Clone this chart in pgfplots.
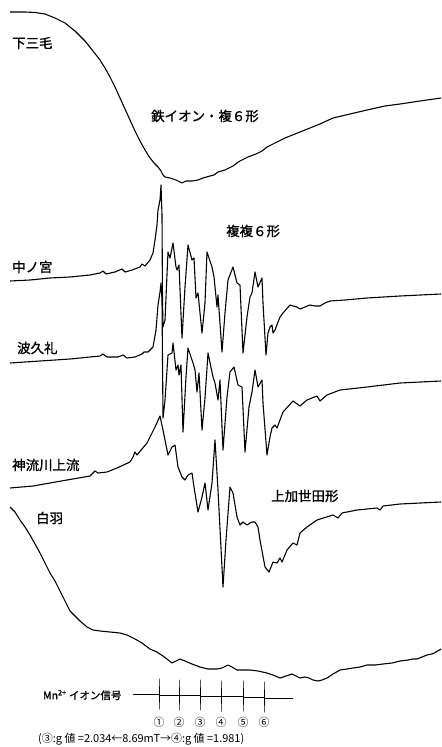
\documentclass[border=0pt]{standalone}
\usepackage{pgfplots}
\pgfplotsset{compat=1.18}
\usepackage{fontspec}
\newfontfamily\jp{Noto Sans CJK JP}
\newfontfamily\jpm[FakeBold=1.2]{Noto Sans CJK JP}
\setmainfont{Noto Sans CJK JP}
\pgfplotsset{tr/.style={black, no markers, line width=1.1bp, line join=round}}
\begin{document}
\begin{tikzpicture}
\begin{axis}[
  scale only axis, width=441bp, height=747bp,
  xmin=0, xmax=441, ymin=0, ymax=747, y dir=reverse,
  axis line style={draw=none}, ticks=none, clip=false,
]
% 下三毛
\addplot[tr] coordinates {(10,12)(25,12)(35,12.5)(45,14)(55,18)(65,23)(75,31)(85,41)(93,51)(100,60)(105,68)(110,77)(115,87)(120,98)(125,109)(130,120)(135,131)(140,141)(145,150)(150,158)(155,164)(158,167)(161,171)(163,175)(165,177)(170,178)(176,180)(182,183)(186,181)(192,181)(198,180)(203,178)(210,176)(214,175)(218,172)(225,170)(233,166)(237,163)(240,161)(248,157)(256,154)(262,151)(267,147)(275,143)(285,138)(300,132)(320,124)(333,118)(350,114)(367,110)(385,106)(400,104)(420,101)(441,98)};
% 中ノ宮
\addplot[tr] coordinates {(10,281)(30,280)(50,278)(70,277)(90,275)(100,273)(103,271)(106,274)(115,272)(122,269)(125,272)(132,270)(140,267)(142,264)(145,266)(150,260)(153,253)(155,240)(157,225)(158,210)(160,200)(161,185)(162,215)(162.5,300)(163,327)(165,320)(168,252)(170,258)(173,243)(176,267)(177,270)(179,265)(182,338)(185,287)(188,245)(192,260)(194,258)(196,298)(198,293)(202,333)(205,303)(207,252)(212,267)(214,277)(217,307)(218,295)(222,352)(225,313)(228,280)(233,267)(237,283)(240,285)(243,353)(247,317)(250,297)(252,293)(255,272)(258,287)(262,278)(263,303)(266,355)(268,333)(270,327)(272,325)(273,333)(275,330)(280,317)(283,313)(290,305)(293,306)(297,307)(300,309)(305,307)(310,305)(315,306)(320,306)(325,303)(330,301)(345,300)(367,298)(400,296)(441,294)};
% 波久礼
\addplot[tr] coordinates {(10,363)(40,361)(70,359)(100,356)(103,354)(107,357)(118,357)(123,355)(127,358)(135,357)(142,354)(144,352)(148,352)(153,347)(156,330)(158,305)(160,292)(161,283)(162,300)(163,418)(165,400)(168,355)(172,353)(173,343)(176,370)(178,365)(179,375)(181,365)(183,432)(186,377)(188,348)(193,363)(195,370)(197,392)(199,373)(202,430)(205,398)(208,353)(213,377)(215,383)(218,400)(220,380)(223,450)(227,397)(230,372)(234,367)(238,385)(242,387)(245,452)(249,407)(252,392)(255,370)(258,387)(262,380)(263,403)(267,455)(270,437)(272,428)(275,425)(277,428)(283,412)(293,401)(300,406)(307,400)(317,396)(320,401)(327,395)(340,390)(367,387)(400,383)(441,381)};
% 神流川上流
\addplot[tr] coordinates {(10,488)(33,486)(67,480)(90,476)(95,471)(98,473)(107,472)(117,468)(130,462)(133,457)(135,452)(137,455)(147,443)(155,427)(160,416)(163,430)(167,450)(168,455)(172,447)(175,445)(178,467)(182,477)(185,480)(188,475)(192,473)(194,487)(198,512)(202,497)(205,483)(208,510)(212,483)(215,440)(218,490)(223,587)(226,540)(230,487)(233,493)(237,517)(240,525)(243,522)(247,525)(250,523)(252,522)(255,522)(258,527)(260,540)(265,567)(269,572)(273,562)(277,563)(280,558)(282,562)(287,550)(293,543)(297,545)(300,533)(307,527)(317,520)(333,515)(338,518)(342,513)(357,510)(377,508)(380,510)(383,506)(400,504)(441,502)};
% 白羽
\addplot[tr] coordinates {(10,507)(15,512)(20,520)(25,527)(30,535)(35,544)(40,553)(45,563)(50,573)(55,581)(60,591)(65,601)(70,611)(75,616)(80,621)(87,627)(93,630)(100,631)(110,632)(120,633)(127,635)(135,639)(142,643)(150,649)(157,652)(163,656)(167,659)(172,663)(176,661)(180,659)(185,661)(192,664)(200,667)(208,669)(217,669)(222,668)(228,665)(232,667)(237,670)(244,670)(250,670)(258,671)(267,673)(273,675)(280,678)(286,676)(292,674)(296,676)(300,678)(305,677)(309,678)(313,680)(318,681)(322,680)(327,678)(333,674)(340,670)(347,669)(353,668)(360,667)(367,665)(375,665)(383,664)(392,663)(400,661)(408,660)(413,659)(417,659)(422,657)(427,655)(432,654)(436,652)(441,649)};
% Mn2+ signal
\addplot[tr, line width=1bp] coordinates {(133,694)(159,694)(159,679)(159,709)(159,695)(179,695)(179,680)(179,710)(179,695.5)(200,695.5)(200,680)(200,710)(200,696)(221,696)(221,681)(221,711)(221,696.5)(243,696.5)(243,681)(243,711)(243,697)(264,697)(264,682)(264,712)(264,698)(293,698)};

\begin{scope}[every node/.style={font=\jpm\fontsize{13.5}{15}\selectfont, inner sep=0pt}]
\node[anchor=west] at (axis cs:12,43) {下三毛};
\node[anchor=west] at (axis cs:151,116) {鉄イオン・複６形};
\node[anchor=west] at (axis cs:226,231) {複複６形};
\node[anchor=west] at (axis cs:12,267) {中ノ宮};
\node[anchor=west] at (axis cs:17,348) {波久礼};
\node[anchor=west] at (axis cs:12,465) {神流川上流};
\node[anchor=west] at (axis cs:36,518) {白羽};
\node[anchor=west] at (axis cs:271,496) {上加世田形};
\end{scope}
\node[anchor=west, inner sep=0pt, font=\jpm\fontsize{10.5}{12}\selectfont] at (axis cs:43,695) {Mn\textsuperscript{2+} イオン信号};
\node[inner sep=0pt, font=\jp\fontsize{11}{12}\selectfont] at (axis cs:159,722) {①};
\node[inner sep=0pt, font=\jp\fontsize{11}{12}\selectfont] at (axis cs:179,722) {②};
\node[inner sep=0pt, font=\jp\fontsize{11}{12}\selectfont] at (axis cs:200,722) {③};
\node[inner sep=0pt, font=\jp\fontsize{11}{12}\selectfont] at (axis cs:221,722) {④};
\node[inner sep=0pt, font=\jp\fontsize{11}{12}\selectfont] at (axis cs:243,722) {⑤};
\node[inner sep=0pt, font=\jp\fontsize{11}{12}\selectfont] at (axis cs:264,722) {⑥};
\node[anchor=west, inner sep=0pt, font=\jp\fontsize{11}{12}\selectfont] at (axis cs:38,739) {(③:g 値 =2.034←8.69mT→④:g 値 =1.981)};
\end{axis}
\end{tikzpicture}
\end{document}
